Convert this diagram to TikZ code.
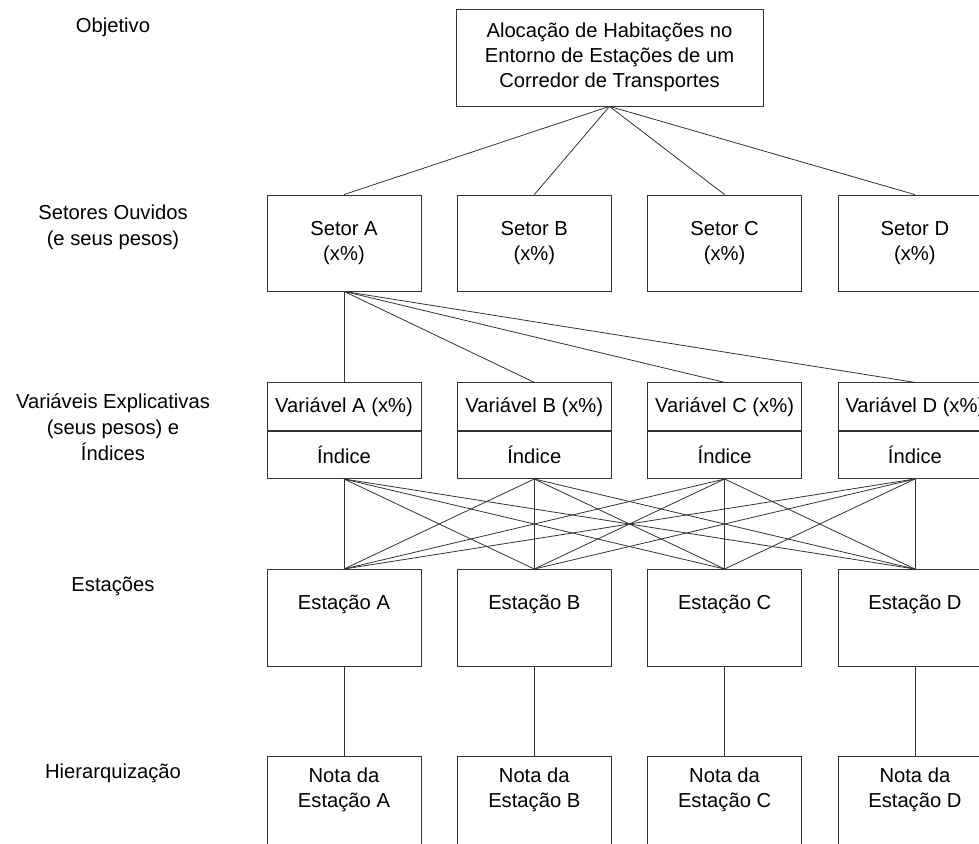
\documentclass[tikz,border=0pt]{standalone}
\usepackage{fontspec}
\setmainfont{Liberation Sans}
\usetikzlibrary{positioning}

\begin{document}
\begin{tikzpicture}[x=1pt, y=-1pt, node distance=35.5pt, line width=0.8pt, draw=black!80,
  box/.style={draw=black!80, rectangle, inner sep=0pt, minimum width=154pt, align=center, font=\fontsize{20.2}{25}\selectfont},
  topbox/.style={box, minimum width=307pt, minimum height=97pt},
  setorbox/.style={box, minimum height=96pt},
  varbox/.style={box, minimum height=48pt},
  idxbox/.style={box, minimum height=47pt},
  estbox/.style={box, minimum height=97pt, text depth=31pt},
  notabox/.style={box, minimum height=97pt, text depth=35pt},
  lbl/.style={align=center, inner sep=0pt, font=\fontsize{20.2}{26}\selectfont}]
\useasboundingbox (0,0) rectangle (979,843);
\clip (0,0) rectangle (979,843);

% level labels
\node[lbl] (lobj) at (113,27) {Objetivo};
\node[lbl] (lset) at (113,227) {Setores Ouvidos\\(e seus pesos)};
\node[lbl] (lvar) at (113,427) {Variáveis Explicativas\\(seus pesos) e\\Índices};
\node[lbl] (lest) at (113,586) {Estações};
\node[lbl] (lhie) at (113,773) {Hierarquização};

% objetivo
\node[topbox] (obj) at (609.5,57.5) {Alocação de Habitações no\\Entorno de Estações de um\\Corredor de Transportes};

% setores
\node[setorbox] (setA) at (344,243) {Setor A\\(x\%)};
\node[setorbox, right=of setA] (setB) {Setor B\\(x\%)};
\node[setorbox, right=of setB] (setC) {Setor C\\(x\%)};
\node[setorbox, right=of setC] (setD) {Setor D\\(x\%)};

% variaveis e indices
\node[varbox, below=91pt of setA] (varA) {Variável A (x\%)};
\node[varbox, below=91pt of setB] (varB) {Variável B (x\%)};
\node[varbox, below=91pt of setC] (varC) {Variável C (x\%)};
\node[varbox, below=91pt of setD] (varD) {Variável D (x\%)};
\node[idxbox, below=0pt of varA] (idxA) {Índice};
\node[idxbox, below=0pt of varB] (idxB) {Índice};
\node[idxbox, below=0pt of varC] (idxC) {Índice};
\node[idxbox, below=0pt of varD] (idxD) {Índice};

% estacoes
\node[estbox, below=90pt of idxA] (estA) {Estação A};
\node[estbox, below=90pt of idxB] (estB) {Estação B};
\node[estbox, below=90pt of idxC] (estC) {Estação C};
\node[estbox, below=90pt of idxD] (estD) {Estação D};

% notas
\node[notabox, below=89pt of estA] (notA) {Nota da\\Estação A};
\node[notabox, below=89pt of estB] (notB) {Nota da\\Estação B};
\node[notabox, below=89pt of estC] (notC) {Nota da\\Estação C};
\node[notabox, below=89pt of estD] (notD) {Nota da\\Estação D};

% ligacoes
\foreach \s in {A,B,C,D} {
  \draw (obj.south) -- (set\s.north);
  \draw (setA.south) -- (var\s.north);
  \draw (est\s.south) -- (not\s.north);
  \foreach \e in {A,B,C,D}
    \draw (idx\s.south) -- (est\e.north);
}
\end{tikzpicture}
\end{document}
